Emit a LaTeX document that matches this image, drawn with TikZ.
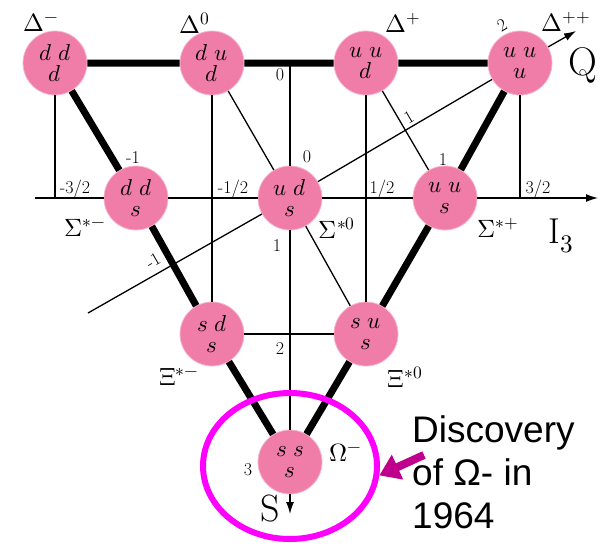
\documentclass[tikz,border=0pt]{standalone}
\usepackage{fontspec}
\usepackage{unicode-math}
\newfontfamily\notefont{Liberation Sans}
\usetikzlibrary{arrows.meta, positioning, shapes.geometric}
\definecolor{quarkpink}{RGB}{240,124,168}
\definecolor{ringmagenta}{RGB}{255,0,255}
\definecolor{pointmagenta}{RGB}{190,0,140}

\begin{document}
\begin{tikzpicture}[x=1pt, y=-1pt,
    quark/.style={circle, fill=quarkpink, draw=quarkpink!55!white, line width=0.8pt,
        minimum size=64pt, inner sep=0pt, align=center, font=\fontsize{23}{21}\selectfont},
    heavy/.style={line width=7pt},
    fine/.style={line width=1.3pt},
    axis/.style={fine, -{Latex[length=12pt, width=8pt]}},
    ticklabel/.style={inner sep=0pt, font=\fontsize{18}{18}\selectfont},
    particle/.style={inner sep=0pt, font=\fontsize{25}{25}\selectfont},
    axislabel/.style={inner sep=0pt, font=\fontsize{40}{40}\selectfont}
]
    \useasboundingbox (0,0) rectangle (607,549);

    % decuplet
    \node[quark] (ddd) at (55,63)  {$d\;d$\\$d$};
    \node[quark] (dud) at (212,63) {$d\;u$\\$d$};
    \node[quark] (uud) at (366,63) {$u\;u$\\$d$};
    \node[quark] (uuu) at (520,63) {$u\;u$\\$u$};
    \node[quark] (dds) at (136,198) {$d\;d$\\$s$};
    \node[quark] (uds) at (290,198) {$u\;d$\\$s$};
    \node[quark] (uus) at (445,198) {$u\;u$\\$s$};
    \node[quark] (sds) at (212,334) {$s\;d$\\$s$};
    \node[quark] (sus) at (366,334) {$s\;u$\\$s$};
    \node[quark] (sss) at (290,462) {$s\;s$\\$s$};

    % axes
    \coordinate (stop) at (290,63);
    \coordinate (send) at (290,514);
    \coordinate (ileft) at (35,198);
    \coordinate (iend) at (598,198);
    \coordinate (qstart) at (88,313);
    \coordinate (qend) at (576,31);
    \draw[fine] (stop) -- (uds) -- (sss);
    \draw[axis] (sss) -- (send);
    \draw[fine] (ileft) -- (dds) -- (uds) -- (uus);
    \draw[axis] (uus) -- (iend);
    \draw[fine] (qstart) -- (uds) -- (uuu);
    \draw[axis] (uuu) -- (qend);

    % triangle
    \draw[heavy] (ddd) -- (dud) -- (uud) -- (uuu) -- (uus) -- (sus) -- (sss)
        -- (sds) -- (dds) -- (ddd);
    \draw[fine] (ddd) -- (ddd |- ileft);
    \draw[fine] (uuu) -- (uuu |- iend);
    \draw[fine] (dud) -- (sds);
    \draw[fine] (uud) -- (sus);
    \draw[fine] (dud) -- (uds);
    \draw[fine] (uud) -- (uus);
    \draw[fine] (uds) -- (sus);
    \draw[fine] (sds) -- (sus);

    % names
    \node[particle] (dm) at (41,23) {$\Delta^-$};
    \node[particle] (d0) at (195,23) {$\Delta^0$};
    \node[particle] (dp) at (403,23) {$\Delta^+$};
    \node[particle] (dpp) at (566,22) {$\Delta^{++}$};
    \node[particle] (sm) at (85,228) {$\Sigma^{*-}$};
    \node[particle] (s0) at (337,228) {$\Sigma^{*0}$};
    \node[particle] (sp) at (498,228) {$\Sigma^{*+}$};
    \node[particle] (xm) at (179,377) {$\Xi^{*-}$};
    \node[particle] (x0) at (405,377) {$\Xi^{*0}$};
    \node[particle] (om) at (346,453) {$\Omega^-$};

    % values
    \node[ticklabel] (im3) at (75,189) {-3/2};
    \node[ticklabel] (im1) at (233,189) {-1/2};
    \node[ticklabel] (ip1) at (382,189) {1/2};
    \node[ticklabel] (ip3) at (538,189) {3/2};
    \node[ticklabel] (s0l) at (280,75) {0};
    \node[ticklabel] (s1l) at (277,246) {1};
    \node[ticklabel] (s2l) at (280,349) {2};
    \node[ticklabel] (s3l) at (248,470) {3};
    \node[ticklabel] (qm1) at (133,158) {-1};
    \node[ticklabel] (q0) at (307,157) {0};
    \node[ticklabel] (q1) at (443,160) {1};
    \node[ticklabel, rotate=30] (qm1r) at (153,261) {-1};
    \node[ticklabel, rotate=30] (q1r) at (409,117) {1};
    \node[ticklabel, rotate=30] (q2r) at (502,25) {2};

    \node[axislabel] (qlab) at (583,65) {$\mathrm{Q}$};
    \node[axislabel, font=\fontsize{36}{36}\selectfont] (ilab) at (561,236) {$\mathrm{I}_3$};
    \node[axislabel, font=\fontsize{38}{38}\selectfont] (slab) at (270,509) {$\mathrm{S}$};

    % discovery
    \node[ellipse, draw=ringmagenta, line width=6pt, minimum width=174pt,
        minimum height=146pt, inner sep=0pt] (ring) at (290,466) {};
    \node[anchor=base west, align=left, inner sep=0pt,
        font=\notefont\fontsize{37}{43}\selectfont] (note) at (412,528)
        {Discovery\\of Ω- in\\1964};
    \coordinate (tail) at (424,455);
    \draw[pointmagenta, line width=8pt, -{Triangle[length=20pt, width=26pt]}]
        (tail) -- (ring.-6);
\end{tikzpicture}
\end{document}
